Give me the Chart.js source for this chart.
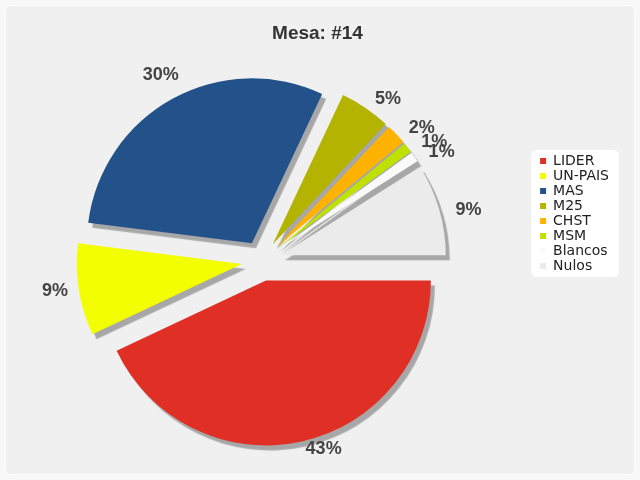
<!DOCTYPE html>
<html><head><meta charset="utf-8">
<script src="https://cdn.jsdelivr.net/npm/chart.js@4"></script>
<style>html,body{margin:0;padding:0;background:#f8f8f8;}</style>
</head><body>
<canvas id="c" width="640" height="480"></canvas>
<script>
const titleText = 'Mesa: #14';
const categories = ['LIDER', 'UN-PAIS', 'MAS', 'M25', 'CHST', 'MSM', 'Blancos', 'Nulos'];
const values = [43, 9, 30, 5, 2, 1, 1, 9];
const colors = ['#E02F24', '#F3FF00', '#23528A', '#B3B300', '#FFB300', '#BFE000', '#FAFAFA', '#EBEBEB'];

const EXPLODE = 20;
const SPACER = 32;

function rr(ctx, x, y, w, h, r) {
  ctx.beginPath();
  ctx.moveTo(x + r, y);
  ctx.lineTo(x + w - r, y); ctx.quadraticCurveTo(x + w, y, x + w, y + r);
  ctx.lineTo(x + w, y + h - r); ctx.quadraticCurveTo(x + w, y + h, x + w - r, y + h);
  ctx.lineTo(x + r, y + h); ctx.quadraticCurveTo(x, y + h, x, y + h - r);
  ctx.lineTo(x, y + r); ctx.quadraticCurveTo(x, y, x + r, y);
  ctx.closePath();
}

const spacerPlugin = {
  id: 'spacer',
  beforeInit(chart) {
    Chart.layouts.addBox(chart, {
      position: 'right', weight: 0, fullSize: false, options: {},
      isHorizontal() { return false; },
      update(maxW, maxH) { this.width = SPACER; this.height = maxH; return {width: SPACER, height: maxH}; },
      draw() {}
    });
  }
};

const framePlugin = {
  id: 'frame',
  beforeDraw(chart) {
    const ctx = chart.ctx, w = chart.width, h = chart.height;
    ctx.save();
    ctx.fillStyle = '#f8f8f8';
    ctx.fillRect(0, 0, w, h);
    rr(ctx, 5.5, 5.5, w - 11, h - 11, 6);
    ctx.fillStyle = '#f0f0f0';
    ctx.fill();
    ctx.strokeStyle = '#ffffff';
    ctx.lineWidth = 1;
    ctx.stroke();
    const lg = chart.legend;
    const cy = (lg.top + lg.bottom) / 2;
    rr(ctx, lg.left - 8, cy - 63.5, lg.width + 8, 127, 6);
    ctx.fillStyle = '#ffffff';
    ctx.fill();
    ctx.restore();
  }
};

const explodePlugin = {
  id: 'explode',
  afterDatasetsUpdate(chart) {
    chart.getDatasetMeta(0).data.forEach(arc => {
      const m = (arc.startAngle + arc.endAngle) / 2;
      arc.x += Math.cos(m) * EXPLODE;
      arc.y += Math.sin(m) * EXPLODE;
    });
  },
  beforeDatasetDraw(chart) {
    const ctx = chart.ctx;
    ctx.save();
    ctx.shadowColor = 'rgba(0,0,0,0.3)';
    ctx.shadowOffsetX = 4;
    ctx.shadowOffsetY = 5;
    ctx.shadowBlur = 1;
  },
  afterDatasetDraw(chart) {
    chart.ctx.restore();
  },
  afterDatasetsDraw(chart) {
    const ctx = chart.ctx;
    const meta = chart.getDatasetMeta(0);
    const total = values.reduce((a, b) => a + b, 0);
    ctx.save();
    ctx.font = 'bold 18px "Liberation Sans", Arial, sans-serif';
    ctx.fillStyle = '#444444';
    ctx.textBaseline = 'middle';
    meta.data.forEach((arc, i) => {
      const m = (arc.startAngle + arc.endAngle) / 2;
      const dx = Math.cos(m), dy = Math.sin(m);
      const txt = Math.round(values[i] / total * 100) + '%';
      let x, y;
      if (dx > 0) {
        ctx.textAlign = 'left';
        x = arc.x + (arc.outerRadius + 17) * dx;
        y = arc.y + (arc.outerRadius + 17) * dy + 5;
      } else {
        ctx.textAlign = 'center';
        x = arc.x + (arc.outerRadius + 24) * dx;
        y = arc.y + (arc.outerRadius + 24) * dy - 3;
      }
      y = Math.min(y, chart.height - 31);
      ctx.fillText(txt, x, y);
    });
    ctx.restore();
  }
};

new Chart(document.getElementById('c'), {
  type: 'pie',
  data: {
    labels: categories,
    datasets: [{
      data: values,
      backgroundColor: colors,
      borderWidth: 0
    }]
  },
  options: {
    responsive: false,
    animation: false,
    events: [],
    rotation: 90,
    radius: 165,
    layout: { padding: { left: 16, right: 21, top: 0, bottom: 53 } },
    plugins: {
      tooltip: { enabled: false },
      title: {
        display: true,
        text: titleText,
        color: '#333333',
        font: { family: '"Liberation Sans", Arial, sans-serif', size: 19, weight: 'bold' },
        padding: { top: 22, bottom: 50 }
      },
      legend: {
        position: 'right',
        align: 'center',
        labels: {
          boxWidth: 6,
          boxHeight: 6,
          padding: 1,
          color: '#222222',
          font: { family: '"DejaVu Sans", Verdana, sans-serif', size: 14 }
        }
      }
    }
  },
  plugins: [spacerPlugin, framePlugin, explodePlugin]
});
</script>
</body></html>
